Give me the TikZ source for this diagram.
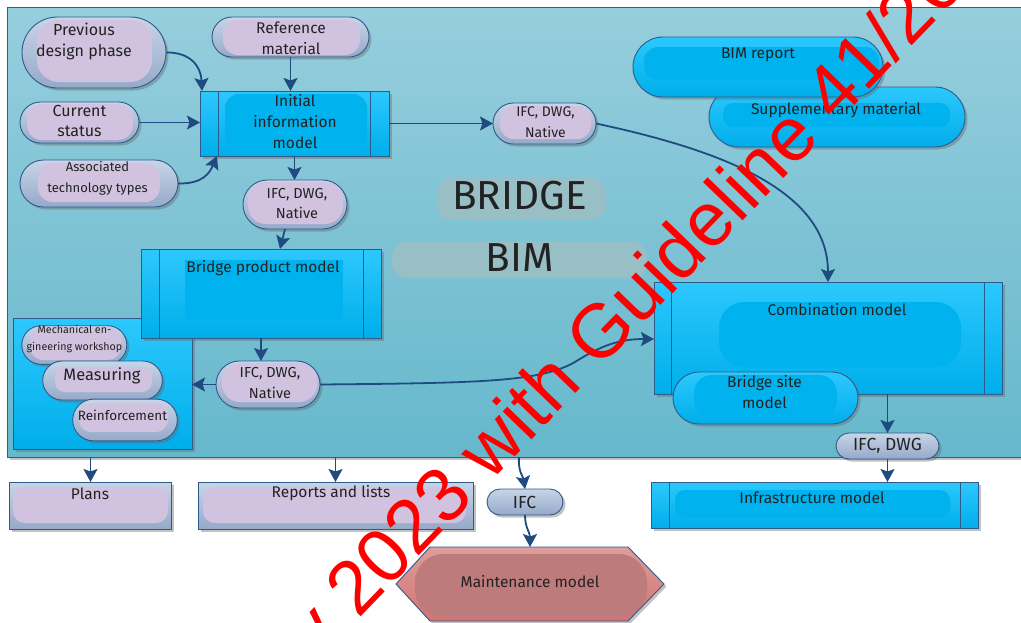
\documentclass[tikz,border=0pt]{standalone}
\usepackage{fontspec}
\setmainfont{Fira Sans}
\newfontfamily\wmfont{Liberation Sans}
\usetikzlibrary{shapes.misc,shadows,arrows.meta}

\definecolor{edge}{HTML}{2F5A8C}
\definecolor{arrowc}{HTML}{1F4B80}
\definecolor{lav}{HTML}{D1C3DF}
\definecolor{pillTop}{HTML}{C8D5E8}
\definecolor{pillBot}{HTML}{95A9C9}
\definecolor{cyanTop}{HTML}{2CC8FD}
\definecolor{cyanBot}{HTML}{00AEEA}
\definecolor{cyanIn}{HTML}{00B3EE}
\definecolor{frameTop}{HTML}{96CEDD}
\definecolor{frameBot}{HTML}{66B8CC}
\definecolor{frameEdge}{HTML}{4C5860}
\definecolor{tagc}{HTML}{98BEC6}
\definecolor{maintTop}{HTML}{DD9E9C}
\definecolor{maintBot}{HTML}{D37371}
\definecolor{maintIn}{HTML}{BE7B7B}
\definecolor{txtc}{HTML}{222222}

\tikzset{
  every node/.style={inner sep=0pt, outer sep=0pt},
  castshadow/.style={drop shadow={shadow xshift=2.5pt, shadow yshift=-2.5pt, fill=black!60, opacity=0.4}},
  graypill/.style={rounded rectangle, draw=edge, line width=0.9pt, top color=pillTop, bottom color=pillBot, castshadow},
  cyanpill/.style={rounded rectangle, draw=edge, line width=0.9pt, top color=cyanTop, bottom color=cyanBot, castshadow},
  graybox/.style={rectangle, draw=edge, line width=0.9pt, top color=pillTop, bottom color=pillBot, castshadow},
  cyanbox/.style={rectangle, draw=edge, line width=0.9pt, top color=cyanTop, bottom color=cyanBot, castshadow},
  sidebars/.style={path picture={
      \draw[edge, line width=0.8pt]
        ([xshift=#1]path picture bounding box.north west) -- ([xshift=#1]path picture bounding box.south west)
        ([xshift=-#1]path picture bounding box.north east) -- ([xshift=-#1]path picture bounding box.south east);}},
  tag/.style={rectangle, rounded corners=14pt, fill=tagc},
  lbl/.style={text=txtc, align=center, font=\fontsize{15.5}{21}\selectfont},
  flow/.style={draw=arrowc, line width=1.8pt, -{Stealth[length=13pt, width=14pt, inset=2.5pt]}},
  wm/.style={text=red, font=\wmfont\fontsize{76}{80}\selectfont},
}

\begin{document}
\begin{tikzpicture}[x=1pt, y=-1pt]
\useasboundingbox (0,0) rectangle (1021,622);
\clip (0,0) rectangle (1021,622);

% BIM area
\node[draw=frameEdge, line width=1pt, top color=frameTop, bottom color=frameBot, castshadow,
      minimum width=1023pt, minimum height=450pt] (bimframe) at (518.5,232) {};

% title tags
\node[tag, minimum width=168pt, minimum height=42pt] (bridgeTag) at (521,199) {};
\node[tag, minimum width=255pt, minimum height=36pt] (bimTag) at (519.5,260) {};
\node[text=txtc, font=\fontsize{40.5}{42}\selectfont] (bridgeT) at (519.5,196) {BRIDGE};
\node[text=txtc, font=\fontsize{40.5}{42}\selectfont] (bimT) at (520,258) {BIM};

% workshop group
\node[cyanbox, minimum width=179pt, minimum height=131pt] (grp) at (102.5,383.5) {};
\node[graypill, minimum width=105pt, minimum height=38.6pt] (mech) at (74.3,345) {};
\fill[lav, rounded corners=13pt] (30,327) rectangle (121,360);
\node[graypill, minimum width=119.6pt, minimum height=39pt] (meas) at (102.5,380.5) {};
\fill[lav, rounded corners=10pt] (55,367) rectangle (152,392);
\node[graypill, minimum width=104.6pt, minimum height=41.7pt] (reinf) at (125,420) {};
\fill[lav, rounded corners=12pt] (79,403) rectangle (168,432);
\node[lbl, font=\fontsize{10.7}{16.5}\selectfont] (mechT) at (74.5,339) {Mechanical en-\\gineering workshop};
\node[lbl, font=\fontsize{16.5}{21}\selectfont] (measT) at (102,376) {Measuring};
\node[lbl, font=\fontsize{13.5}{21}\selectfont] (reinfT) at (122.5,415.5) {Reinforcement};

% inputs
\node[graypill, minimum width=144pt, minimum height=71pt] (prev) at (94,52.5) {};
\fill[lav, rounded corners=22pt] (37,20) rectangle (152,82);
\node[lbl, font=\fontsize{16}{21}\selectfont] (prevT) at (84,41) {Previous\\design phase};

\node[graypill, minimum width=157pt, minimum height=40pt] (ref) at (290.5,37) {};
\fill[lav, rounded corners=15pt] (223,20) rectangle (360,55);
\node[lbl] (refT) at (291,38) {Reference\\material};

\node[graypill, minimum width=119pt, minimum height=41pt] (cur) at (79.5,122.5) {};
\fill[lav, rounded corners=15pt] (27,104) rectangle (133,140);
\node[lbl, font=\fontsize{16}{20}\selectfont] (curT) at (79.5,120.5) {Current\\status};

\node[graypill, minimum width=158pt, minimum height=47pt] (assoc) at (99,183.5) {};
\fill[lav, rounded corners=15pt] (38,163) rectangle (160,202);
\node[lbl, font=\fontsize{13}{21}\selectfont] (assocT) at (97.5,178) {Associated\\technology types};

% models
\node[cyanbox, sidebars=18.5pt, minimum width=189pt, minimum height=65pt] (init) at (294.5,123.5) {};
\fill[cyanIn, rounded corners=14pt] (225,94) rectangle (367,153);
\node[lbl] (initT) at (295,121.5) {Initial\\information\\model};

\node[graypill, minimum width=104pt, minimum height=49pt] (ifcB) at (295,204.5) {};
\fill[lav, rounded corners=18pt] (248,182) rectangle (343,224);
\node[lbl, font=\fontsize{14.5}{20}\selectfont] (ifcBT) at (297,203.5) {IFC, DWG,\\Native};

\node[graypill, minimum width=103pt, minimum height=41pt] (ifcA) at (544.5,123.5) {};
\fill[lav, rounded corners=14pt] (500,106) rectangle (591,139);
\node[lbl, font=\fontsize{14}{21}\selectfont] (ifcAT) at (545.5,122.5) {IFC, DWG,\\Native};

\node[cyanbox, sidebars=18pt, minimum width=240pt, minimum height=89pt] (bpm) at (261,293.5) {};
\fill[cyanIn] (185,260) rectangle (343,320);
\node[lbl] (bpmT) at (263,268) {Bridge product model};

\node[graypill, minimum width=104pt, minimum height=47pt] (ifcC) at (268,384.5) {};
\fill[lav, rounded corners=18pt] (222,363) rectangle (317,402);
\node[lbl, font=\fontsize{14.5}{21}\selectfont] (ifcCT) at (270,383) {IFC, DWG,\\Native};

\node[cyanpill, minimum width=256pt, minimum height=60pt] (supp) at (837,117) {};
\fill[cyanIn, rounded corners=10pt] (723,103) rectangle (950,127);
\node[lbl] (suppT) at (836,110.5) {Supplementary material};

\node[cyanpill, minimum width=250pt, minimum height=60pt] (bimr) at (758,67) {};
\fill[cyanIn, rounded corners=14pt] (644,47) rectangle (879,80);
\node[lbl] (bimrT) at (758,54.5) {BIM report};

\node[cyanbox, sidebars=17.5pt, minimum width=348pt, minimum height=112pt] (comb) at (828,338) {};
\fill[cyanIn, rounded corners=25pt] (719,302) rectangle (961,367);
\node[lbl] (combT) at (837,309.5) {Combination model};

\node[cyanpill, minimum width=185pt, minimum height=52pt] (site) at (765.5,398) {};
\fill[cyanIn, rounded corners=18pt] (694,375) rectangle (837,418);
\node[lbl] (siteT) at (764.5,392.5) {Bridge site\\model};

\node[graypill, minimum width=103pt, minimum height=26pt] (ifcD) at (887.5,446) {};
\node[lbl, font=\fontsize{17.5}{21}\selectfont] (ifcDT) at (887.5,446) {IFC, DWG};

% outputs
\node[graybox, minimum width=162pt, minimum height=47pt] (plans) at (90.5,505.5) {};
\fill[lav, rounded corners=12pt] (13,487) rectangle (168,523);
\node[lbl] (plansT) at (90,493.5) {Plans};

\node[graybox, minimum width=275pt, minimum height=47pt] (reps) at (335.5,505.5) {};
\fill[lav, rounded corners=12pt] (203,487) rectangle (466,523);
\node[lbl] (repsT) at (331,493.5) {Reports and lists};

\node[graypill, minimum width=76pt, minimum height=26pt] (ifcE) at (525,502) {};
\node[lbl, font=\fontsize{17.5}{21}\selectfont] (ifcET) at (524.5,502.5) {IFC};

\node[cyanbox, sidebars=18pt, minimum width=327pt, minimum height=46pt] (infra) at (814.5,505) {};
\fill[cyanIn, rounded corners=10pt] (675,490) rectangle (950,518);
\node[lbl] (infraT) at (812,497.5) {Infrastructure model};

\path[draw=edge, line width=0.9pt, top color=maintTop, bottom color=maintBot, castshadow]
  (430,547) -- (628,547) -- (664,584) -- (628,621) -- (430,621) -- (396,584) -- cycle;
\fill[maintIn, rounded corners=28pt] (415,554) rectangle (647,617);
\node[minimum width=268pt, minimum height=74pt] (maint) at (530,584) {};
\node[lbl] (maintT) at (530,581.5) {Maintenance model};

% information flow
\draw[flow] (prev.east) .. controls (190,52) and (201,66) .. ([xshift=2pt]init.north west);
\draw[flow] (ref.south) -- (ref.south |- init.north);
\draw[flow] (cur.east) -- (cur.east -| init.west);
\draw[flow] (assoc.east) .. controls (204,184) and (210,172) .. ([xshift=17pt]init.south west);
\draw[flow] (init.east) -- (init.east -| ifcA.west);
\draw[flow] (init.south) -- (init.south |- ifcB.north);
\draw[flow] (ifcA.east) .. controls (720,150) and (828,190) .. (828,0 |- comb.north);
\draw[flow] ([xshift=-10pt]ifcB.south) -- ([xshift=19pt]bpm.north);
\draw[flow] (bpm.south) -- (bpm.south |- ifcC.north);
\draw[flow] (ifcC.west) -- (ifcC.west -| grp.east);
\draw[flow] (ifcC.east) .. controls (480,383) and (540,382) .. (575,362)
            .. controls (602,345) and (620,339) .. (comb.west |- 0,339);
\draw[flow] (ifcD.north |- comb.south) -- (ifcD.north);
\draw[flow] (ifcD.south) -- (ifcD.south |- infra.north);
\draw[flow] (plans.north |- bimframe.south) -- (plans.north);
\draw[flow] (reps.north |- bimframe.south) -- (reps.north);
\draw[flow] (519,0 |- bimframe.south) .. controls (518,472) and (523,476) .. (ifcE.north);
\draw[flow] (ifcE.south) .. controls (525,528) and (530,532) .. (maint.north);

% stamp
\node[wm, rotate=46, anchor=base west] (stamp) at (317,662) {y 2023 with Guideline 41/2023};
\end{tikzpicture}
\end{document}
